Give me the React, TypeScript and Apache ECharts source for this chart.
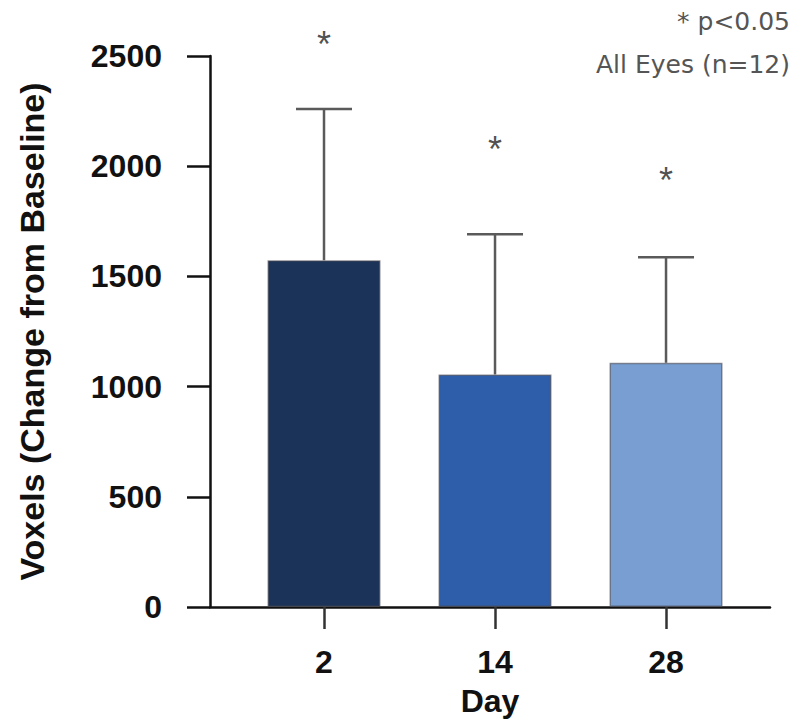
import React, { useEffect, useRef } from "react";
import * as echarts from "echarts";

const days = ["2", "14", "28"];
const means = [1573, 1055, 1108];
const sdUpper = [687, 636, 479];
const starHeights = [2554, 2074, 1934];
const barColors = ["#1b3358", "#2e5ea9", "#799fd2"];
const yMin = 0;
const yMax = 2500;
const yInterval = 500;
const notes = ["* p<0.05", "All Eyes (n=12)"];

const FONT = "'Liberation Sans', Arial, Helvetica, sans-serif";

export default function App() {
  const ref = useRef<HTMLDivElement>(null);
  useEffect(() => {
    if (!ref.current) return;
    const chart = echarts.init(ref.current, null, { renderer: "svg" });
    const idx = days.map((_, i) => i);
    chart.setOption({
      animation: false,
      backgroundColor: "#ffffff",
      grid: { left: 210, right: 27, top: 56, bottom: 114, containLabel: false },
      xAxis: {
        type: "value",
        min: -2 / 3,
        max: 2.608,
        name: "Day",
        nameLocation: "middle",
        nameGap: 78,
        nameTextStyle: { fontFamily: FONT, fontSize: 32, fontWeight: "bold", color: "#111" },
        axisLine: { show: true, onZero: false, lineStyle: { color: "#111", width: 2.5 } },
        axisTick: { show: true, inside: false, length: 22, customValues: idx, lineStyle: { color: "#333", width: 2.5 } },
        axisLabel: {
          show: true,
          customValues: idx,
          margin: 39,
          fontFamily: FONT,
          fontSize: 32,
          fontWeight: "bold",
          color: "#111",
          formatter: (v: number) => days[Math.round(v)] ?? "",
        },
        splitLine: { show: false },
      },
      yAxis: {
        type: "value",
        min: yMin,
        max: yMax,
        interval: yInterval,
        name: "Voxels (Change from Baseline)",
        nameLocation: "middle",
        nameGap: 161,
        nameTextStyle: { fontFamily: FONT, fontSize: 34, fontWeight: "bold", color: "#111" },
        axisLine: { show: true, onZero: false, lineStyle: { color: "#111", width: 2.5 } },
        axisTick: { show: true, inside: false, length: 23, lineStyle: { color: "#111", width: 2.5 } },
        axisLabel: {
          margin: 48,
          fontFamily: FONT,
          fontSize: 32,
          fontWeight: "bold",
          color: "#111",
          formatter: (v: number) => String(v),
        },
        splitLine: { show: false },
      },
      series: [
        {
          type: "bar",
          barWidth: 113,
          data: means.map((v, i) => ({
            value: [i, v],
            itemStyle: { color: barColors[i], borderColor: "rgba(70,70,80,0.6)", borderWidth: 1.5 },
          })),
        },
        {
          type: "custom",
          z: 3,
          data: means.map((m, i) => [i, m, m + sdUpper[i]]),
          renderItem: (params: any, api: any) => {
            const x = api.value(0);
            const base = api.coord([x, api.value(1)]);
            const top = api.coord([x, api.value(2)]);
            const hw = 28;
            const style = { stroke: "#5a5a5a", lineWidth: 2.5 };
            return {
              type: "group",
              children: [
                { type: "line", shape: { x1: base[0], y1: base[1], x2: top[0], y2: top[1] }, style },
                { type: "line", shape: { x1: top[0] - hw, y1: top[1], x2: top[0] + hw, y2: top[1] }, style },
              ],
            };
          },
        },
        {
          type: "scatter",
          clip: false,
          symbol: "circle",
          symbolSize: 1,
          itemStyle: { color: "rgba(0,0,0,0)" },
          data: starHeights.map((v, i) => [i, v]),
          label: {
            show: true,
            position: "inside",
            formatter: "*",
            fontFamily: FONT,
            fontSize: 36,
            color: "#222",
          },
        },
      ],
      graphic: [
        {
          type: "text",
          right: 7,
          top: 9,
          style: { text: notes[0], fontFamily: "'DejaVu Sans', sans-serif", fontSize: 25, fill: "#555", align: "right" },
        },
        {
          type: "text",
          right: 7,
          top: 52,
          style: { text: notes[1], fontFamily: "'DejaVu Sans', sans-serif", fontSize: 25, fill: "#555", align: "right" },
        },
      ],
    });
    return () => chart.dispose();
  }, []);
  return (
    <div
      ref={ref}
      style={{ position: "fixed", left: 0, top: 0, width: 797, height: 722, background: "#fff" }}
    />
  );
}
